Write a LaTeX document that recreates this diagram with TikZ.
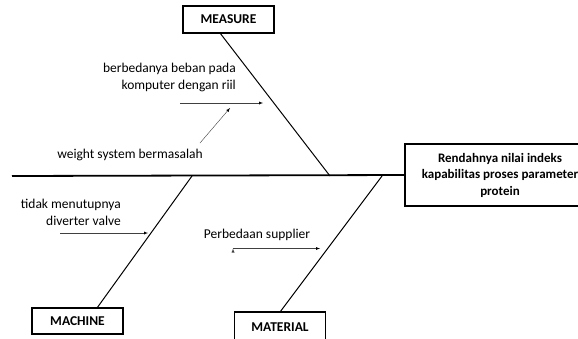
\documentclass[tikz,border=0pt]{standalone}
\usepackage{fontspec}
\setmainfont{Carlito}
\usetikzlibrary{arrows,shapes}

\begin{document}
\begin{tikzpicture}[x=1pt,y=-1pt]
\tikzstyle{every node}+=[inner sep=0pt,font=\fontsize{13.5}{17}\selectfont]
\tikzstyle{category}=[draw,line width=1.2pt,rectangle,minimum width=91pt,minimum height=27pt,font=\fontsize{13.5}{15}\selectfont\bfseries]
\tikzstyle{cause}=[align=right]
\tikzstyle{bone}=[line width=1pt]
\tikzstyle{hint}=[-latex,draw=black!75]
\clip (0,0) rectangle (578,338);

\node (effect) [draw,line width=1.2pt,rectangle,minimum width=190pt,minimum height=62pt,
  align=center,font=\fontsize{13}{16.5}\selectfont\bfseries] at (500,175)
  {Rendahnya nilai indeks\\kapabilitas proses parameter\\protein};
\node (measure) [category] at (228.5,19.5) {MEASURE};
\node (machine) [category,minimum height=26pt] at (77.5,321) {MACHINE};
\node (material) [category,minimum height=30pt] at (280,327) {MATERIAL};

\coordinate (tail) at (12,176);
\coordinate (measure-end) at (330,176);
\coordinate (machine-end) at (192,176);
\coordinate (material-end) at (382,176);
\coordinate (measure-top) at (220,33);
\coordinate (machine-top) at (97,308);
\coordinate (material-top) at (280,312);

\path[bone]
  (tail) edge[line width=1.8pt] (effect.west)
  (measure-top) edge (measure-end)
  (machine-top) edge (machine-end)
  (material-top) edge (material-end)
;

\node (beban) [cause,anchor=north east] at (236,63) {berbedanya beban pada\\komputer dengan riil};
\node (weight) at (130,155) {weight system bermasalah};
\node (valve) [cause,anchor=north east] at (121,199) {tidak menutupnya\\diverter valve};
\node (supplier) at (257,235) {Perbedaan supplier};

\coordinate (beban from) at (180,103);
\coordinate (beban to) at (263,103);
\coordinate (weight from) at (200,143);
\coordinate (weight to) at (230,108);
\coordinate (valve from) at (60,233);
\coordinate (valve to) at (148,233);
\coordinate (supplier from) at (233,248.5);
\coordinate (supplier to) at (320,248.5);

\path[hint]
  (beban from) edge (beban to)
  (weight from) edge (weight to)
  (valve from) edge (valve to)
  (supplier from) edge (supplier to)
;
\end{tikzpicture}
\end{document}
